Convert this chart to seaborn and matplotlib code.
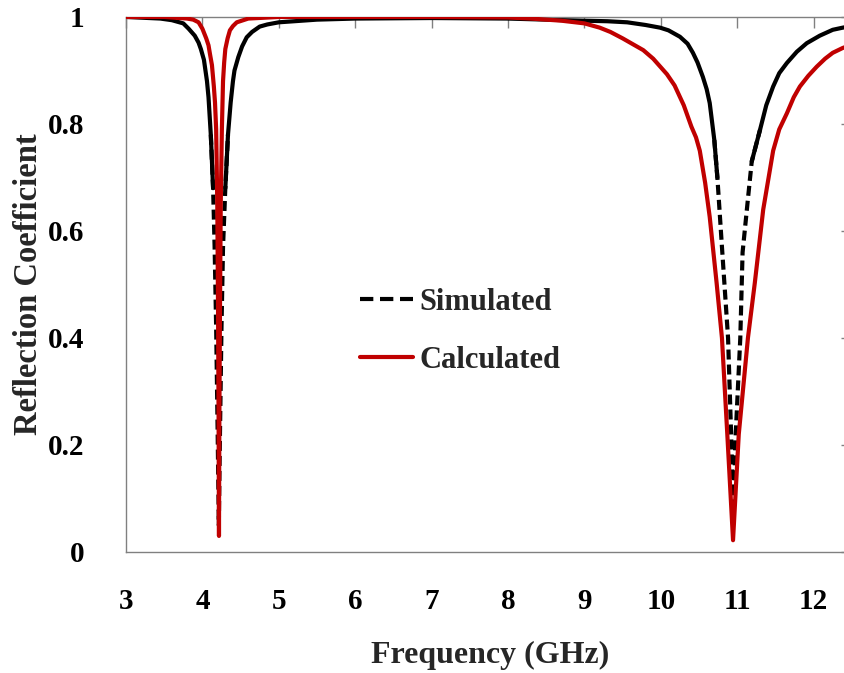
import numpy as np
import pandas as pd
import matplotlib
matplotlib.use("Agg")
from matplotlib import pyplot as plt
from matplotlib.lines import Line2D
import seaborn as sns

# values
sim_freq = [3.0, 3.3, 3.45, 3.6, 3.75, 3.82, 3.9, 3.95, 3.98, 4.02, 4.04, 4.06,
            4.08, 4.11, 4.14, 4.16, 4.18, 4.20, 4.215, 4.23, 4.25, 4.27, 4.30,
            4.335, 4.37, 4.40, 4.42, 4.47, 4.52, 4.58, 4.65, 4.75, 4.85, 5.0,
            5.5, 6.0, 7.0, 8.0, 8.5, 9.0, 9.3, 9.56, 9.8, 9.99, 10.1, 10.25,
            10.35, 10.42, 10.48, 10.55, 10.6, 10.64, 10.70, 10.74, 10.80, 10.88,
            10.92, 10.95, 10.98, 11.04, 11.07, 11.14, 11.19, 11.30, 11.38,
            11.47, 11.55, 11.65, 11.78, 11.91, 12.08, 12.25, 12.38, 12.5]
sim_refl = [1.0, 0.998, 0.997, 0.994, 0.988, 0.978, 0.965, 0.952, 0.94, 0.92,
            0.90, 0.88, 0.85, 0.78, 0.68, 0.57, 0.42, 0.22, 0.05, 0.22, 0.42,
            0.57, 0.68, 0.78, 0.84, 0.88, 0.90, 0.925, 0.945, 0.962, 0.972,
            0.982, 0.986, 0.99, 0.995, 0.997, 0.998, 0.997, 0.995, 0.993, 0.992,
            0.99, 0.985, 0.98, 0.975, 0.963, 0.95, 0.933, 0.915, 0.888, 0.865,
            0.839, 0.77, 0.70, 0.57, 0.40, 0.22, 0.06, 0.22, 0.40, 0.56, 0.66,
            0.73, 0.79, 0.835, 0.87, 0.895, 0.914, 0.935, 0.951, 0.965, 0.976,
            0.98, 0.983]

calc_freq = [3.0, 3.5, 3.8, 3.88, 3.95, 4.0, 4.05, 4.08, 4.10, 4.125, 4.15,
             4.165, 4.18, 4.195, 4.205, 4.212, 4.217, 4.222, 4.23, 4.24, 4.255,
             4.27, 4.285, 4.30, 4.33, 4.36, 4.4, 4.45, 4.6, 5.0, 6.0, 7.0, 8.0,
             8.3, 8.7, 9.0, 9.2, 9.34, 9.5, 9.77, 9.9, 10.08, 10.18, 10.30,
             10.40, 10.46, 10.51, 10.58, 10.64, 10.73, 10.80, 10.87, 10.945,
             11.02, 11.14, 11.23, 11.34, 11.47, 11.55, 11.65, 11.74, 11.82,
             11.93, 12.04, 12.15, 12.25, 12.38, 12.5]
calc_refl = [1.0, 1.0, 0.997, 0.995, 0.99, 0.978, 0.96, 0.947, 0.93, 0.91, 0.87,
             0.84, 0.79, 0.65, 0.45, 0.25, 0.03, 0.25, 0.45, 0.65, 0.79, 0.88,
             0.915, 0.94, 0.96, 0.975, 0.983, 0.99, 0.997, 1.0, 1.0, 1.0, 0.999,
             0.997, 0.993, 0.988, 0.98, 0.972, 0.96, 0.938, 0.922, 0.893, 0.872,
             0.835, 0.795, 0.775, 0.75, 0.69, 0.626, 0.503, 0.40, 0.22, 0.022,
             0.22, 0.40, 0.503, 0.64, 0.75, 0.79, 0.82, 0.85, 0.87, 0.89, 0.907,
             0.922, 0.933, 0.942, 0.948]

x_ticks = [3, 4, 5, 6, 7, 8, 9, 10, 11, 12]
y_ticks = [0, 0.2, 0.4, 0.6, 0.8, 1]
y_tick_labels = ["0", "0.2", "0.4", "0.6", "0.8", "1"]

sns.set_theme(style="white")
plt.rcParams["font.family"] = ["Liberation Serif", "DejaVu Serif"]
plt.rcParams["font.weight"] = "bold"

fig = plt.figure(figsize=(8.45, 6.73), dpi=100)
ax = fig.add_axes([0.1491, 0.1798, 0.859, 0.795])

red = "#C00000"
dash = (0, (2.4, 1.2))

sim = pd.DataFrame({"freq": sim_freq, "refl": sim_refl})
calc = pd.DataFrame({"freq": calc_freq, "refl": calc_refl})

# the simulated trace looks solid on the flat parts and dashed inside the dips
steep = (sim["refl"] < 0.76).to_numpy()
run_id = np.cumsum(np.r_[0, np.diff(steep.astype(int)) != 0])
for rid in np.unique(run_id):
    idx = np.where(run_id == rid)[0]
    lo = max(idx[0] - 1, 0)
    hi = min(idx[-1] + 1, len(sim) - 1)
    part = sim.iloc[lo:hi + 1]
    sns.lineplot(data=part, x="freq", y="refl", ax=ax, color="black", lw=3,
                 linestyle=dash if steep[idx[0]] else "-",
                 sort=False, estimator=None, zorder=2)

sns.lineplot(data=calc, x="freq", y="refl", ax=ax, color=red, lw=3,
             sort=False, estimator=None, zorder=3)

ax.set_xlim(3, 12.5)
ax.set_ylim(0, 1)
ax.set_xticks(x_ticks)
ax.set_xticklabels([str(t) for t in x_ticks])
ax.set_yticks(y_ticks)
ax.set_yticklabels(y_tick_labels)

for s in ax.spines.values():
    s.set_color("#808080")
    s.set_linewidth(1.0)
ax.tick_params(direction="in", length=8, width=1, color="#808080",
               top=True, right=True, labelsize=21, labelcolor="black")
ax.tick_params(axis="y", pad=30)
ax.tick_params(axis="x", pad=26)
for lab in ax.get_xticklabels() + ax.get_yticklabels():
    lab.set_fontweight("bold")

ax.set_xlabel("Frequency (GHz)", fontsize=23, fontweight="bold")
ax.set_ylabel("Reflection Coefficient", fontsize=23.5, fontweight="bold")
ax.xaxis.set_label_coords(0.5015, -0.166)
ax.yaxis.set_label_coords(-0.113, 0.5)

handles = [Line2D([], [], color="black", lw=3, linestyle=(0, (3.2, 1.6))),
           Line2D([], [], color=red, lw=3)]
ax.legend(handles, ["Simulated", "Calculated"], loc="center left",
          bbox_to_anchor=(0.322, 0.412), frameon=False, borderpad=0,
          borderaxespad=0, handlelength=1.75, handletextpad=0.2,
          labelspacing=0.95, prop={"size": 22, "weight": "bold"})

fig.savefig("out.png", dpi=100)
